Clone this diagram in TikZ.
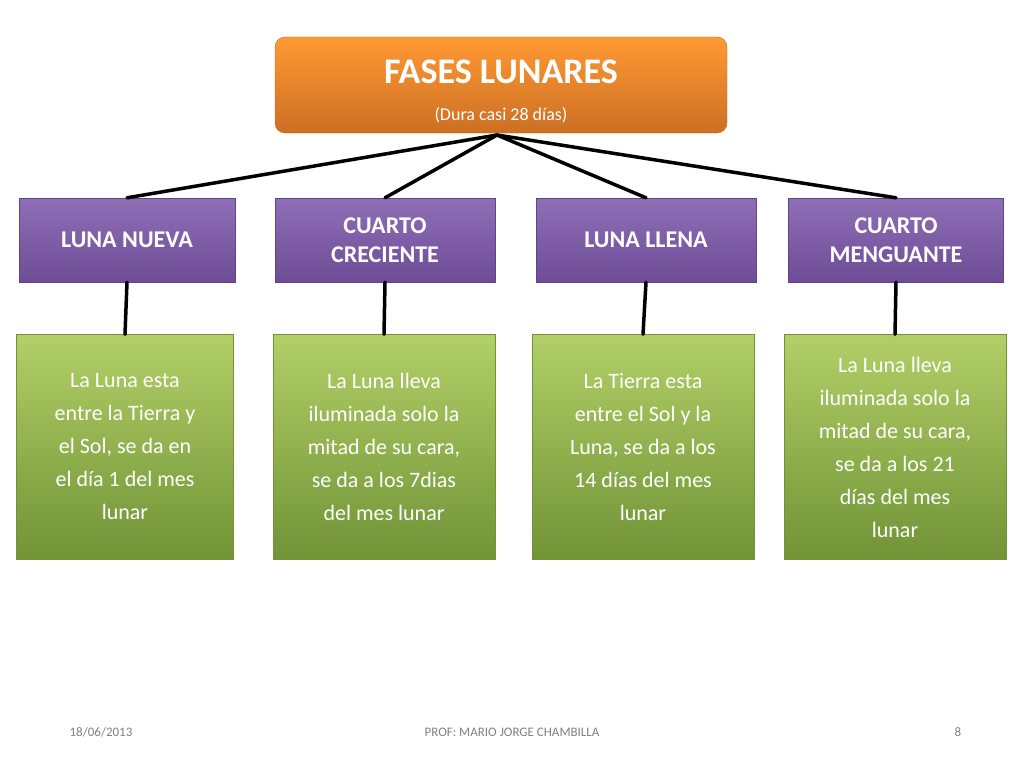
\documentclass[tikz,border=0pt]{standalone}
\usepackage{fontspec}
\setmainfont{Carlito}
\definecolor{purp}{HTML}{7A55A8}
\definecolor{grn}{HTML}{8DB844}
\definecolor{org}{HTML}{F0832A}
\begin{document}
\begin{tikzpicture}[x=1pt,y=-1pt,
  phase/.style={draw=purp!80!black,top color=purp!85!white,bottom color=purp!90!black,text=white,font=\fontsize{24}{29}\selectfont\bfseries,align=center,minimum height=84pt,inner sep=0pt},
  desc/.style={draw=grn!80!black,top color=grn!75!white!90!yellow,bottom color=grn!80!black,text=white,font=\fontsize{22}{33}\selectfont,align=center,minimum height=225pt,inner sep=0pt},
  link/.style={line width=3.5pt,line cap=round},
  foot/.style={text=gray,font=\fontsize{13}{15}\selectfont}]
\useasboundingbox (0,0) rectangle (1024,768);
\node[rounded corners=10pt,draw=org!80!black,top color=orange!80!white,bottom color=org!85!black,minimum width=452pt,minimum height=96pt] (t) at (501,85) {};
\node[text=white,font=\fontsize{36}{40}\selectfont\bfseries] at (501,72) {FASES LUNARES};
\node[text=white,font=\fontsize{18}{20}\selectfont] at (501,115) {(Dura casi 28 días)};
\coordinate (hub) at (497,135);
\node[phase,minimum width=216pt] (p1) at (127,240) {LUNA NUEVA};
\node[phase,minimum width=220pt] (p2) at (385,240) {CUARTO\\CRECIENTE};
\node[phase,minimum width=220pt] (p3) at (646,240) {LUNA LLENA};
\node[phase,minimum width=215pt] (p4) at (896,240) {CUARTO\\MENGUANTE};
\node[desc,minimum width=217pt] (d1) at (125,447) {La Luna esta\\entre la Tierra y\\el Sol, se da en\\el día 1 del mes\\lunar};
\node[desc,minimum width=222pt] (d2) at (384,447) {La Luna lleva\\iluminada solo la\\mitad de su cara,\\se da a los 7dias\\del mes lunar};
\node[desc,minimum width=222pt] (d3) at (643,447) {La Tierra esta\\entre el Sol y la\\Luna, se da a los\\14 días del mes\\lunar};
\node[desc,minimum width=222pt] (d4) at (895,447) {La Luna lleva\\iluminada solo la\\mitad de su cara,\\se da a los 21\\días del mes\\lunar};
\foreach \i in {1,2,3,4} {\draw[link] (hub) -- (p\i.north); \draw[link] (p\i.south) -- (d\i.north);}
\node[foot] (f1) at (101,732) {18/06/2013};
\node[foot] (f2) at (512,732) {PROF: MARIO JORGE CHAMBILLA};
\node[foot] (f3) at (958,732) {8};
\end{tikzpicture}
\end{document}
